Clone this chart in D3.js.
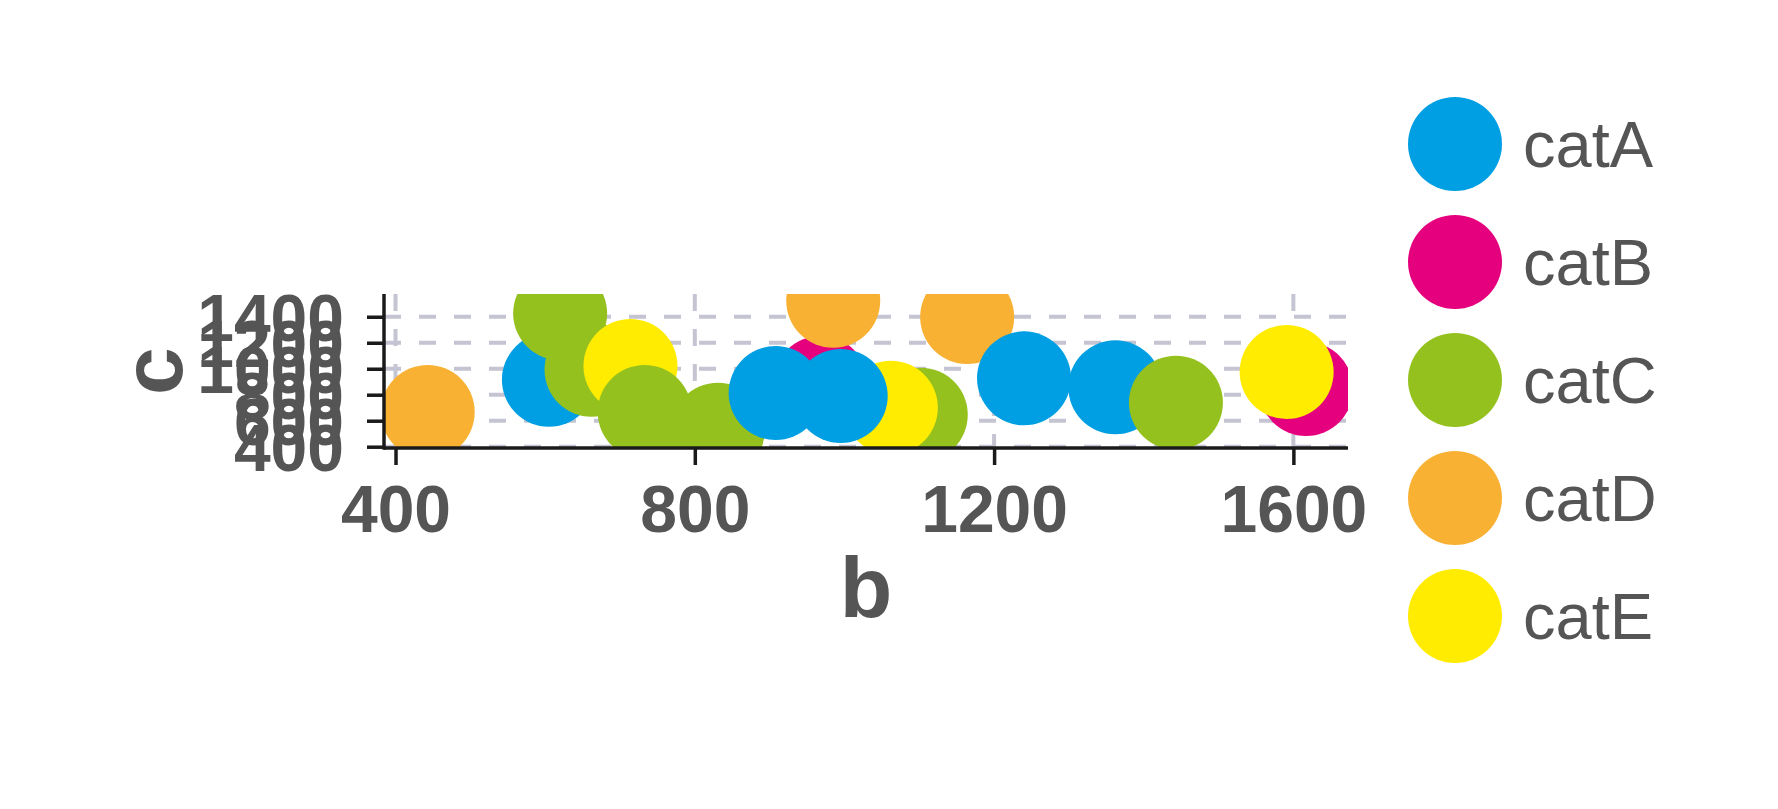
<!DOCTYPE html>
<html>
<head>
<meta charset="utf-8">
<script src="https://cdn.jsdelivr.net/npm/d3@7"></script>
<style>
  html, body { margin: 0; padding: 0; background: #ffffff; }
  svg { display: block; }
</style>
</head>
<body>
<svg id="chart" width="1778" height="809"></svg>
<script>
// ---- data (draw order) ----
const pointCategory = ["catD","catA","catC","catC","catE","catC","catC","catB","catC","catE","catA","catD","catA","catD","catA","catA","catC","catB","catE"];
const bValues       = [443, 605, 620, 662, 714, 733, 831, 968, 1102, 1062, 908, 985, 995, 1164, 1240, 1362, 1443, 1617, 1591];
const cValues       = [667, 915, 1426, 992, 1021, 667, 531, 890, 646, 700, 813, 1523, 790, 1398, 926, 857, 738, 844, 975];

const categories = ["catA","catB","catC","catD","catE"];
const categoryColors = ["#009fe3","#e5007e","#95c11f","#f8b133","#ffec00"];

const xTicks = [400, 800, 1200, 1600];
const yTicks = [400, 600, 800, 1000, 1200, 1400];
const xDomain = [384.6, 1673];
const yDomain = [390, 1575];

// ---- layout ----
const svg = d3.select("#chart");
const plot = { left: 384, right: 1348, top: 294, bottom: 448 };
const textColor = "#555555";
const axisColor = "#1a1a1a";
const gridColor = "#c4c4d2";
const radius = 47;
const fontFamily = "'Liberation Sans', Arial, Helvetica, sans-serif";

const x = d3.scaleLinear().domain(xDomain).range([plot.left, plot.right]);
const y = d3.scaleLinear().domain(yDomain).range([plot.bottom, plot.top]);
const color = d3.scaleOrdinal().domain(categories).range(categoryColors);

const points = bValues.map((b, i) => ({ b, c: cValues[i], cat: pointCategory[i] }));

// clip
svg.append("defs").append("clipPath").attr("id", "plotClip")
  .append("rect")
  .attr("x", plot.left).attr("y", plot.top)
  .attr("width", plot.right - plot.left).attr("height", plot.bottom - plot.top);

// gridlines
const grid = svg.append("g").attr("stroke", gridColor).attr("stroke-width", 4)
  .attr("stroke-dasharray", "17,18");
grid.selectAll("line.h").data(yTicks).join("line").attr("class", "h")
  .attr("x1", plot.left).attr("x2", plot.right)
  .attr("y1", d => y(d)).attr("y2", d => y(d));
grid.selectAll("line.v").data(xTicks).join("line").attr("class", "v")
  .attr("y1", plot.top).attr("y2", plot.bottom)
  .attr("x1", d => x(d)).attr("x2", d => x(d));

// points
svg.append("g").attr("clip-path", "url(#plotClip)")
  .selectAll("circle").data(points).join("circle")
  .attr("cx", d => x(d.b)).attr("cy", d => y(d.c)).attr("r", radius)
  .attr("fill", d => color(d.cat));

// axes
const fmt = d3.format("d");
const xAxis = d3.axisBottom(x).tickValues(xTicks).tickFormat(fmt).tickSize(17).tickPadding(20).tickSizeOuter(0);
const yAxis = d3.axisLeft(y).tickValues(yTicks).tickFormat(fmt).tickSize(17).tickPadding(23).tickSizeOuter(0);

const gx = svg.append("g").attr("transform", `translate(0,${plot.bottom})`).call(xAxis);
const gy = svg.append("g").attr("transform", `translate(${plot.left},0)`).call(yAxis);

[gx, gy].forEach(g => {
  g.select(".domain").remove();
  g.selectAll(".tick line").attr("stroke", axisColor).attr("stroke-width", 3.5);
  g.selectAll(".tick text")
    .attr("fill", textColor)
    .attr("font-family", fontFamily)
    .attr("font-weight", "bold")
    .attr("font-size", 66);
});
gx.selectAll(".tick text").attr("dy", "0.71em");
gy.selectAll(".tick text").attr("dy", "0.36em");

// axis lines
svg.append("line").attr("x1", plot.left).attr("x2", plot.right)
  .attr("y1", plot.bottom).attr("y2", plot.bottom)
  .attr("stroke", axisColor).attr("stroke-width", 3.5);
svg.append("line").attr("x1", plot.left).attr("x2", plot.left)
  .attr("y1", plot.top).attr("y2", plot.bottom + 1.75)
  .attr("stroke", axisColor).attr("stroke-width", 3.5);

// axis titles
svg.append("text").attr("x", (plot.left + plot.right) / 2).attr("y", 617)
  .attr("text-anchor", "middle")
  .attr("font-family", fontFamily)
  .attr("font-weight", "bold").attr("font-size", 86).attr("fill", textColor)
  .text("b");
svg.append("text")
  .attr("transform", `translate(182,${(plot.top + plot.bottom) / 2}) rotate(-90)`)
  .attr("text-anchor", "middle")
  .attr("font-family", fontFamily)
  .attr("font-weight", "bold").attr("font-size", 86).attr("fill", textColor)
  .text("c");

// legend
const legend = svg.append("g");
const legendItems = legend.selectAll("g").data(categories).join("g")
  .attr("transform", (d, i) => `translate(1455,${144 + i * 118})`);
legendItems.append("circle").attr("r", radius).attr("fill", d => color(d));
legendItems.append("text").attr("x", 68).attr("y", 0).attr("dy", "0.36em")
  .attr("font-family", fontFamily)
  .attr("font-size", 65).attr("fill", textColor)
  .text(d => d);
</script>
</body>
</html>
